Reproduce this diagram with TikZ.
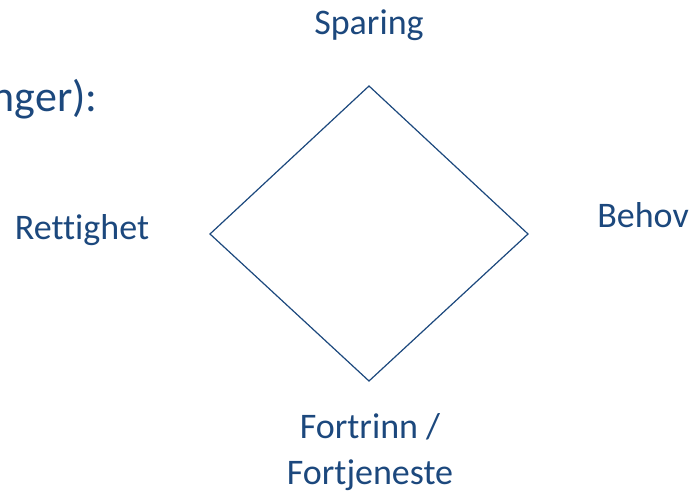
\documentclass[tikz,border=0pt]{standalone}
\usepackage{fontspec}
\setmainfont[Ligatures=NoCommon]{Carlito}
\definecolor{txtblue}{RGB}{28,72,125}
\begin{document}
\begin{tikzpicture}[x=0.5pt,y=-0.5pt,
    lbl/.style={text=txtblue,font=\fontsize{18}{22}\selectfont,inner sep=0pt,anchor=base},
    ttl/.style={text=txtblue,font=\fontsize{22}{26}\selectfont,inner sep=0pt,anchor=base east}]
    \useasboundingbox (0,0) rectangle (690,491);
    \coordinate (top) at (369,86);
    \coordinate (rgt) at (528,234);
    \coordinate (bot) at (369,381);
    \coordinate (lft) at (210,234);
    \draw[txtblue,line width=0.6pt] (top)--(rgt)--(bot)--(lft)--cycle;

    \node[ttl] (head) at (98,112) {nger):};
    \node[lbl] (spar) at (369,35) {Sparing};
    \node[lbl] (rett) at (82,240) {Rettighet};
    \node[lbl] (beho) at (643,228) {Behov};
    \node[lbl] (fort) at (370,438) {Fortrinn /};
    \node[lbl] (fjen) at (370,484) {Fortjeneste};
\end{tikzpicture}
\end{document}
